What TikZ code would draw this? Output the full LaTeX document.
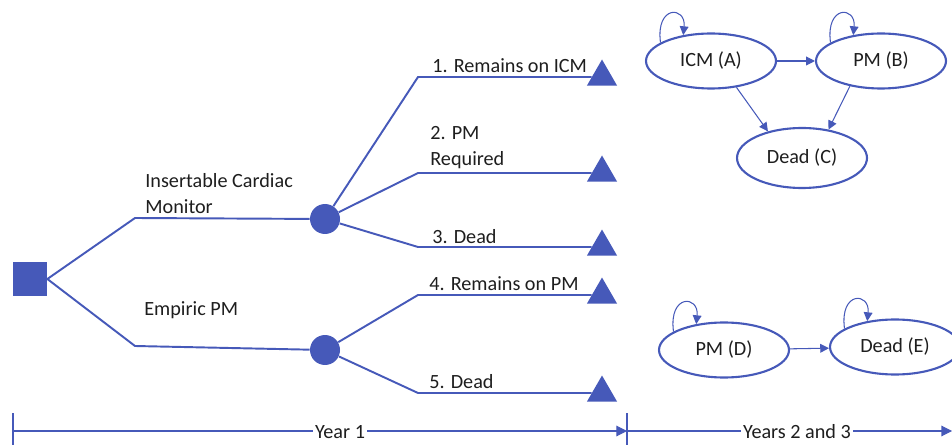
\documentclass[tikz,border=0pt]{standalone}
\usepackage{fontspec}
\setmainfont{Carlito}
\usepackage{tikz}
\usetikzlibrary{shapes.geometric}
\usetikzlibrary{arrows.meta}
\definecolor{treeblue}{RGB}{70,89,185}
\definecolor{txtgray}{RGB}{30,30,30}
\tikzstyle{decision}=[rectangle, fill=treeblue, minimum size=0.68cm, inner sep=0pt]
\tikzstyle{chance}=[circle, fill=treeblue, minimum size=0.6cm, inner sep=0pt]
\tikzstyle{terminal}=[regular polygon, regular polygon sides=3, fill=treeblue, minimum size=0.7cm, inner sep=0pt]
\tikzstyle{branch}=[draw=treeblue, line width=1.1pt]
\tikzstyle{state}=[ellipse, draw=treeblue, line width=1.2pt, text=txtgray, minimum width=2.6cm, minimum height=1.1cm]
\tikzstyle{trans}=[draw=treeblue, line width=0.6pt, -{Triangle[length=5pt,width=5pt]}]
\tikzstyle{lbl}=[anchor=base west, inner sep=0pt, text=txtgray, align=left]
\tikzstyle{axis}=[draw=treeblue, line width=0.6pt]

\begin{document}
\begin{tikzpicture}[x=0.02cm, y=-0.02cm, font=\fontsize{11.5}{15.3}\selectfont]
\useasboundingbox (0,0) rectangle (952,445);
% decision tree, year 1
\node[decision] (dec0) at (30,279){};
\coordinate (bend1) at (135,218);
\coordinate (bend2) at (135,346);
\node[chance] (ch1) at (325,219){};
\node[chance] (ch2) at (325,350){};
\coordinate (knee1) at (418,77);
\coordinate (knee2) at (418,173);
\coordinate (knee3) at (418,247);
\coordinate (knee4) at (418,295);
\coordinate (knee5) at (418,393);
\node[terminal] (term1) at (602,77){};
\node[terminal] (term2) at (602,173){};
\node[terminal] (term3) at (602,247){};
\node[terminal] (term4) at (602,295){};
\node[terminal] (term5) at (602,393){};
\draw[branch](dec0.east) -- (bend1) -- (ch1);
\draw[branch](dec0.east) -- (bend2) -- (ch2);
\draw[branch](ch1) -- (knee1) -- (term1);
\draw[branch](ch1) -- (knee2) -- (term2);
\draw[branch](ch1) -- (knee3) -- (term3);
\draw[branch](ch2) -- (knee4) -- (term4);
\draw[branch](ch2) -- (knee5) -- (term5);
\node[lbl] (armICM) at (145,214){Insertable Cardiac\\Monitor};
\node[lbl] (armPM) at (144,316){Empiric PM};
\node[lbl] (out1) at (432,73){1. Remains on ICM};
\node[lbl] (out2) at (430,166){2. PM\\Required};
\node[lbl] (out3) at (432,244){3. Dead};
\node[lbl] (out4) at (429,291){4. Remains on PM};
\node[lbl] (out5) at (429,388){5. Dead};
% markov states, years 2 and 3
\node[state] (icmA) at (711,61){ICM (A)};
\node[state] (pmB) at (881,61){PM (B)};
\node[state, minimum height=1.2cm] (deadC) at (802,158){Dead (C)};
\node[state] (pmD) at (724,350){PM (D)};
\node[state] (deadE) at (895,347){Dead (E)};
\draw[trans](icmA) -- (pmB);
\draw[trans](icmA.-46) -- (deadC.142);
\draw[trans](pmB.219) -- (deadC.47);
\draw[trans](pmD) -- (deadE);
\draw[trans](icmA.160) .. controls +(-5,-38) and +(3,-29) .. (icmA.137);
\draw[trans](pmB.160) .. controls +(-5,-38) and +(3,-29) .. (pmB.137);
\draw[trans](pmD.160) .. controls +(-5,-38) and +(3,-29) .. (pmD.137);
\draw[trans](deadE.160) .. controls +(-5,-38) and +(3,-29) .. (deadE.137);
% time line
\coordinate (tick0a) at (13,413);
\coordinate (tick0b) at (13,445);
\coordinate (tick1a) at (627,413);
\coordinate (tick1b) at (627,445);
\coordinate (tl0) at (13,431);
\coordinate (tl1) at (627,431);
\coordinate (tl2) at (952,431);
\draw[axis](tick0a) -- (tick0b);
\draw[axis](tick1a) -- (tick1b);
\draw[axis, -{Triangle[length=6pt,width=6pt]}](tl0) -- (tl1);
\draw[axis, -{Triangle[length=6pt,width=6pt]}](tl1) -- (tl2);
\node[fill=white, inner sep=1pt, text=txtgray, anchor=base] (yr1) at (340,438){Year 1};
\node[fill=white, inner sep=1pt, text=txtgray, anchor=base] (yr23) at (797,438){Years 2 and 3};
\end{tikzpicture}
\end{document}
